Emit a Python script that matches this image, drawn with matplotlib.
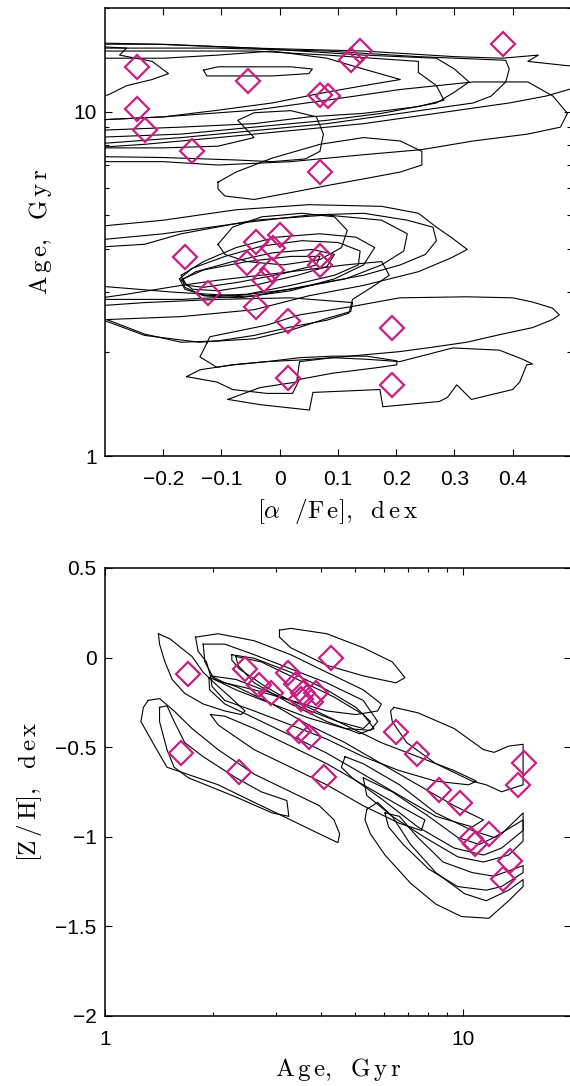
import matplotlib
matplotlib.use("Agg")
import matplotlib.pyplot as plt
from matplotlib.ticker import NullFormatter, FixedLocator, LogLocator

plt.rcParams["mathtext.fontset"] = "cm"
plt.rcParams["font.family"] = ["Liberation Sans", "DejaVu Sans"]

# ---- top panel: [alpha/Fe] vs age, galaxy estimates (diamonds)
alpha_pts = [-0.245, -0.245, -0.232, -0.150, -0.054, 0.069, 0.123, 0.137, 0.069,
             0.083, 0.383, -0.163, -0.041, 0.000, -0.057, -0.013, -0.027, -0.123,
             -0.040, 0.015, 0.015, 0.069, 0.069, -0.011, 0.192, 0.192]
age_pts_top = [13.5, 10.2, 8.83, 7.67, 12.3, 6.66, 14.1, 15.0, 11.2,
               11.1, 15.7, 3.78, 4.17, 4.39, 3.63, 3.47, 3.25, 2.97,
               2.71, 2.46, 1.69, 3.80, 3.59, 4.02, 2.35, 1.61]

# confidence contours, (alpha/Fe, age) vertices
old_1 = [(-0.325, 14.3), (-0.200, 14.3), (-0.106, 14.6), (-0.013, 15.0), (0.081, 14.3),
         (0.144, 13.3), (0.207, 12.4), (0.144, 11.9), (0.081, 11.4), (-0.013, 10.6),
         (-0.106, 10.1), (-0.200, 9.66), (-0.325, 9.44)]
old_2 = [(-0.325, 15.0), (-0.200, 15.0), (-0.044, 15.0), (0.081, 14.6), (0.238, 14.0),
         (0.238, 13.0), (0.269, 11.9), (0.282, 10.8), (0.238, 10.35), (0.144, 9.89),
         (0.050, 9.66), (-0.044, 9.23), (-0.169, 9.02), (-0.325, 8.81)]
old_3 = [(-0.325, 15.7), (-0.200, 15.7), (-0.044, 15.3), (0.144, 14.6), (0.269, 14.3),
         (0.300, 13.3), (0.325, 12.2), (0.300, 11.4), (0.269, 10.6), (0.175, 9.89),
         (0.081, 9.44), (-0.044, 9.02), (-0.169, 8.61), (-0.325, 8.41)]
old_4 = [(-0.325, 15.3), (-0.106, 15.3), (0.081, 15.0), (0.238, 14.45), (0.388, 14.1),
         (0.394, 13.3), (0.388, 12.2), (0.363, 11.1), (0.332, 10.6), (0.207, 9.89),
         (0.081, 9.23), (-0.044, 8.81), (-0.169, 8.41), (-0.325, 8.04)]
old_5 = [(-0.325, 15.85), (-0.213, 15.7), (-0.044, 15.3), (0.144, 15.0), (0.300, 14.45),
         (0.382, 14.3), (0.444, 14.6), (0.426, 14.0), (0.494, 13.6), (0.519, 13.6),
         (0.519, 11.9), (0.457, 11.1), (0.394, 10.6), (0.269, 9.89), (0.144, 9.23),
         (0.019, 8.81), (-0.106, 8.41), (-0.232, 8.04), (-0.325, 7.85)]
old_6 = [(-0.325, 9.44), (-0.200, 9.66), (-0.044, 10.1), (0.081, 10.8), (0.207, 11.6),
         (0.332, 12.2), (0.426, 12.2), (0.469, 11.1), (0.494, 9.89), (0.482, 9.02),
         (0.426, 8.61), (0.332, 8.22), (0.244, 7.76), (0.144, 7.50), (0.019, 7.16),
         (-0.106, 7.00), (-0.200, 7.16), (-0.325, 7.16)]
old_7 = [(-0.131, 13.2), (-0.106, 13.5), (-0.044, 13.5), (0.019, 13.5), (0.056, 13.3),
         (0.050, 12.9), (-0.013, 12.7), (-0.075, 12.7), (-0.125, 12.7)]
old_8 = [(-0.325, 15.5), (-0.263, 15.3), (-0.275, 14.6), (-0.219, 14.0), (-0.191, 12.9),
         (-0.219, 12.4), (-0.263, 11.9), (-0.294, 11.2), (-0.325, 10.8)]
inter_1 = [(-0.106, 6.24), (-0.075, 6.68), (-0.013, 7.33), (0.069, 8.04), (0.144, 8.41),
           (0.207, 8.22), (0.244, 7.67), (0.244, 7.00), (0.207, 6.68), (0.144, 6.38),
           (0.081, 6.10), (0.019, 5.82), (-0.044, 5.56), (-0.094, 5.69), (-0.106, 5.96)]
inter_2 = [(-0.325, 7.41), (-0.200, 7.36), (-0.075, 7.24), (-0.013, 7.16), (0.044, 7.29),
           (0.069, 7.67), (0.075, 8.61), (0.063, 9.66), (0.019, 10.07), (-0.044, 9.93),
           (-0.072, 9.44), (-0.044, 8.41), (-0.106, 7.94), (-0.200, 7.85), (-0.325, 7.85)]
mid_1 = [(-0.325, 4.62), (-0.200, 4.84), (-0.075, 5.19), (0.050, 5.37), (0.175, 5.31),
         (0.238, 5.07), (0.269, 4.62), (0.294, 4.32), (0.322, 3.98), (0.294, 3.76),
         (0.238, 3.43), (0.144, 3.13), (0.050, 2.92), (-0.044, 2.66), (-0.169, 2.54),
         (-0.325, 2.48)]
mid_2 = [(-0.325, 4.22), (-0.200, 4.42), (-0.075, 4.73), (0.050, 5.01), (0.144, 5.07),
         (0.219, 4.84), (0.263, 4.62), (0.269, 4.22), (0.250, 3.85), (0.207, 3.59),
         (0.144, 3.35), (0.050, 3.13), (-0.044, 2.92), (-0.169, 2.85), (-0.325, 2.85)]
mid_3 = [(-0.325, 4.03), (-0.232, 4.12), (-0.169, 4.42), (-0.044, 4.84), (0.081, 5.01),
         (0.175, 4.84), (0.219, 4.42), (0.213, 3.94), (0.175, 3.59), (0.113, 3.27),
         (0.019, 3.05), (-0.075, 2.92), (-0.181, 2.99), (-0.325, 3.13)]
mid_4 = [(-0.106, 4.12), (-0.081, 4.62), (-0.031, 4.95), (0.038, 5.07), (0.094, 4.95),
         (0.116, 4.52), (0.106, 4.03), (0.069, 3.72), (0.006, 3.59), (-0.056, 3.67),
         (-0.094, 3.85)]
mid_5 = [(-0.169, 3.35), (-0.131, 3.67), (-0.075, 4.03), (-0.006, 4.32), (0.069, 4.42),
         (0.131, 4.32), (0.163, 4.03), (0.144, 3.59), (0.094, 3.27), (0.019, 3.02),
         (-0.069, 2.88), (-0.131, 2.92), (-0.163, 3.09)]
mid_6 = [(-0.172, 3.27), (-0.150, 3.51), (-0.094, 3.80), (-0.031, 4.07), (0.038, 4.22),
         (0.100, 4.17), (0.138, 3.94), (0.135, 3.59), (0.094, 3.35), (0.019, 3.13),
         (-0.056, 2.95), (-0.125, 2.92), (-0.163, 3.05)]
mid_7 = [(-0.169, 3.24), (-0.144, 3.43), (-0.081, 3.67), (-0.013, 3.89), (0.056, 3.98),
         (0.094, 3.85), (0.081, 3.55), (0.031, 3.35), (-0.044, 3.13), (-0.106, 3.02),
         (-0.150, 3.05)]
mid_8 = [(-0.166, 3.27), (-0.131, 3.47), (-0.056, 3.67), (0.019, 3.80), (0.069, 3.80),
         (0.063, 3.59), (0.006, 3.39), (-0.069, 3.20), (-0.131, 3.09), (-0.160, 3.13)]
mid_9 = [(-0.325, 2.85), (-0.263, 2.95), (-0.169, 3.13), (-0.106, 3.24), (0.019, 3.43),
         (0.113, 3.59), (0.175, 3.67), (0.188, 3.35), (0.163, 3.13), (0.125, 2.85),
         (0.119, 2.60), (0.081, 2.48), (0.019, 2.37), (-0.044, 2.24), (-0.106, 2.16),
         (-0.169, 2.14), (-0.232, 2.26), (-0.294, 2.48), (-0.325, 2.54)]
young_1 = [(-0.125, 2.13), (-0.120, 2.22), (-0.081, 2.29), (-0.022, 2.40), (0.034, 2.57),
           (0.120, 2.71), (0.206, 2.88), (0.321, 2.90), (0.400, 2.88), (0.434, 2.80),
           (0.468, 2.69), (0.480, 2.57), (0.468, 2.49), (0.434, 2.36), (0.377, 2.25),
           (0.321, 2.14), (0.262, 2.07), (0.206, 2.01), (0.149, 1.97), (0.091, 1.93),
           (0.034, 1.90), (-0.022, 1.88), (-0.081, 1.84), (-0.108, 1.81), (-0.137, 1.94)]
young_2 = [(-0.325, 2.72), (-0.232, 2.79), (-0.106, 2.85), (0.019, 2.88), (0.125, 2.79),
           (0.122, 2.63), (0.081, 2.51), (0.019, 2.32), (-0.044, 2.19), (-0.138, 2.14),
           (-0.232, 2.24), (-0.294, 2.45), (-0.325, 2.51)]
young_3 = [(-0.089, 1.46), (-0.034, 1.41), (0.051, 1.36), (0.057, 1.53), (0.172, 1.56),
           (0.177, 1.39), (0.274, 1.44), (0.288, 1.48), (0.304, 1.61), (0.329, 1.46),
           (0.400, 1.56), (0.412, 1.64), (0.424, 1.84), (0.434, 1.85), (0.417, 1.91),
           (0.377, 2.03), (0.297, 2.06), (0.206, 1.88), (0.149, 1.91), (0.091, 1.93),
           (0.034, 1.88), (0.029, 1.64), (-0.034, 1.58)]
young_4 = [(-0.160, 1.70), (-0.137, 1.78), (-0.081, 1.84), (-0.022, 1.88), (0.034, 1.93),
           (0.091, 1.95), (0.149, 1.95), (0.201, 1.89), (0.201, 1.84), (0.172, 1.81),
           (0.091, 1.74), (0.034, 1.67), (0.022, 1.52), (-0.022, 1.52), (-0.081, 1.56),
           (-0.108, 1.64)]

top_contours = [old_1, old_2, old_3, old_4, old_5, old_6, old_7, old_8,
                inter_1, inter_2, mid_1, mid_2, mid_3, mid_4, mid_5, mid_6,
                mid_7, mid_8, mid_9, young_1, young_2, young_3, young_4]

# ---- bottom panel: age vs [Z/H]
age_pts_bot = [1.70, 1.63, 2.36, 2.46, 2.70, 2.90, 3.24, 3.41, 3.58, 3.53, 3.75, 3.88,
               3.49, 3.70, 4.28, 4.08, 6.49, 7.45, 8.58, 9.83, 10.5, 10.8, 11.8,
               14.8, 14.2, 13.5, 12.9]
zh_pts = [-0.09, -0.535, -0.64, -0.065, -0.155, -0.20, -0.088, -0.145, -0.20, -0.23,
          -0.25, -0.20, -0.41, -0.445, 0.0, -0.665, -0.415, -0.54, -0.737, -0.81,
          -1.01, -1.04, -0.985, -0.59, -0.713, -1.135, -1.233]

zc_1 = [(1.41, 0.133), (1.52, 0.104), (1.63, 0.055), (1.75, 0.006), (1.88, -0.082),
        (2.07, -0.161), (2.26, -0.229), (2.46, -0.298), (2.40, -0.318), (2.16, -0.298),
        (1.88, -0.259), (1.67, -0.200), (1.54, -0.122), (1.47, -0.024), (1.42, 0.075)]
zc_2 = [(1.42, -0.278), (1.49, -0.269), (1.56, -0.357), (1.67, -0.475), (1.88, -0.553),
        (2.32, -0.671), (2.73, -0.749), (3.22, -0.798), (3.26, -0.886), (2.93, -0.867),
        (2.32, -0.778), (1.71, -0.671), (1.56, -0.612), (1.49, -0.514), (1.42, -0.357)]
zc_3 = [(1.32, -0.239), (1.42, -0.229), (1.56, -0.298), (1.75, -0.396), (2.07, -0.514),
        (2.61, -0.651), (3.30, -0.749), (3.97, -0.827), (4.36, -0.906), (4.52, -0.984),
        (4.47, -1.033), (3.97, -0.984), (3.30, -0.906), (2.61, -0.808), (2.07, -0.710),
        (1.49, -0.612), (1.36, -0.475), (1.26, -0.357), (1.28, -0.278)]
zc_4 = [(3.07, 0.153), (3.30, 0.163), (4.16, 0.133), (5.26, 0.055), (6.34, -0.024),
        (6.88, -0.112), (6.49, -0.141), (5.26, -0.102), (4.16, -0.043), (3.30, 0.055),
        (3.07, 0.114)]
zc_5 = [(1.79, 0.114), (2.07, 0.133), (2.61, 0.094), (3.30, 0.016), (4.16, -0.082),
        (5.26, -0.180), (5.91, -0.259), (5.77, -0.298), (5.02, -0.318), (4.16, -0.298),
        (3.30, -0.239), (2.61, -0.180), (2.16, -0.141), (1.97, -0.102), (1.92, -0.024),
        (1.82, 0.035)]
zc_6 = [(1.88, 0.075), (2.16, 0.075), (2.61, 0.016), (3.30, -0.063), (4.16, -0.141),
        (5.26, -0.239), (5.77, -0.357), (5.51, -0.406), (4.68, -0.396), (3.70, -0.337),
        (2.93, -0.259), (2.32, -0.180), (2.02, -0.122), (1.90, -0.024)]
zc_7 = [(2.26, 0.016), (2.61, -0.004), (3.30, -0.082), (4.16, -0.180), (5.02, -0.278),
        (5.51, -0.357), (5.26, -0.396), (4.47, -0.357), (3.53, -0.278), (2.80, -0.161),
        (2.37, -0.063), (2.26, -0.014)]
zc_8 = [(2.32, 0.006), (2.73, -0.024), (3.45, -0.122), (4.36, -0.220), (5.26, -0.318),
        (5.64, -0.396), (5.14, -0.425), (4.16, -0.357), (3.30, -0.259), (2.61, -0.141),
        (2.35, -0.043)]
zc_9 = [(1.97, -0.102), (2.32, -0.122), (2.93, -0.200), (3.70, -0.278), (4.68, -0.376),
        (5.91, -0.475), (7.47, -0.553), (9.44, -0.631), (10.9, -0.690), (10.35, -0.710),
        (8.39, -0.690), (6.64, -0.631), (5.26, -0.553), (4.16, -0.455), (3.30, -0.376),
        (2.61, -0.298), (2.16, -0.239), (1.99, -0.161)]
zc_10 = [(1.97, -0.318), (2.16, -0.327), (2.61, -0.396), (3.30, -0.494), (4.16, -0.592),
         (5.26, -0.710), (6.64, -0.827), (7.82, -0.906), (7.64, -0.965), (6.64, -0.925),
         (5.26, -0.827), (4.16, -0.710), (3.30, -0.612), (2.61, -0.514), (2.07, -0.376)]
zc_11 = [(1.95, -0.112), (2.32, -0.161), (2.93, -0.259), (3.70, -0.376), (4.68, -0.475),
         (5.91, -0.592), (7.47, -0.710), (9.44, -0.827), (11.4, -0.906), (10.6, -0.945),
         (8.39, -0.886), (6.64, -0.769), (5.26, -0.651), (4.16, -0.533), (3.30, -0.435),
         (2.61, -0.337), (2.16, -0.259), (1.96, -0.180)]
zc_12 = [(5.38, -0.847), (5.77, -0.808), (6.34, -0.886), (7.13, -1.043), (8.39, -1.200),
         (10.1, -1.318), (11.6, -1.357), (13.4, -1.298), (14.7, -1.239), (14.7, -1.278),
         (13.4, -1.357), (11.8, -1.455), (9.89, -1.445), (8.39, -1.376), (7.13, -1.259),
         (6.05, -1.102), (5.51, -0.984), (5.32, -0.906)]
zc_13 = [(6.05, -0.867), (6.64, -0.886), (7.47, -1.004), (8.79, -1.141), (10.6, -1.200),
         (12.2, -1.220), (14.7, -1.161), (14.7, -1.200), (12.8, -1.278), (11.6, -1.298),
         (9.66, -1.278), (8.01, -1.180), (6.80, -1.043), (6.19, -0.945)]
zc_14 = [(4.68, -0.553), (5.26, -0.592), (6.64, -0.710), (8.39, -0.867), (10.6, -0.965),
         (12.2, -1.004), (14.7, -0.906), (14.7, -0.965), (12.8, -1.063), (11.4, -1.102),
         (9.44, -1.063), (7.47, -0.945), (5.91, -0.788), (4.90, -0.671), (4.57, -0.612)]
zc_15 = [(5.26, -0.671), (6.34, -0.749), (8.01, -0.886), (9.66, -1.004), (11.1, -1.043),
         (12.8, -0.984), (14.7, -0.867), (14.7, -1.024), (13.4, -1.102), (11.4, -1.141),
         (9.66, -1.112), (7.82, -1.004), (6.34, -0.886), (5.38, -0.769)]
zc_16 = [(6.41, -0.278), (7.47, -0.308), (9.44, -0.396), (11.4, -0.514), (12.2, -0.529),
         (13.4, -0.494), (14.7, -0.484), (14.7, -0.710), (12.8, -0.749), (11.6, -0.710),
         (10.6, -0.690), (8.39, -0.592), (6.96, -0.475), (6.34, -0.357), (6.27, -0.298)]

bottom_contours = [zc_1, zc_2, zc_3, zc_4, zc_5, zc_6, zc_7, zc_8, zc_9, zc_10,
                   zc_11, zc_12, zc_13, zc_14, zc_15, zc_16]

top_xticks = [-0.2, -0.1, 0, 0.1, 0.2, 0.3, 0.4]
top_xlabels = ["\u22120.2", "\u22120.1", "0", "0.1", "0.2", "0.3", "0.4"]
bot_yticks = [0.5, 0, -0.5, -1, -1.5, -2]
bot_ylabels = ["0.5", "0", "\u22120.5", "\u22121", "\u22121.5", "\u22122"]

mag = "#c81e82"
tick_fs = 15
label_fs = 18

age_label = r"$\mathrm{A\,g\,e},\ \ \mathrm{G\,y\,r}$"
afe_label = r"$[\alpha\ \ /\mathrm{F\,e}],\ \ \mathrm{d\,e\,x}$"
zh_label = r"$[\mathrm{Z\,/\,H}],\ \ \mathrm{d\,e\,x}$"


def draw_contours(ax, contours):
    for c in contours:
        xs = [p[0] for p in c] + [c[0][0]]
        ys = [p[1] for p in c] + [c[0][1]]
        ax.plot(xs, ys, color="black", lw=0.8)


def style_axes(ax):
    ax.tick_params(which="both", direction="in", top=True, right=True,
                   labelsize=tick_fs, width=0.8)
    ax.tick_params(which="major", length=5)
    ax.tick_params(which="minor", length=3)
    ax.tick_params(axis="x", which="major", pad=10)
    ax.tick_params(axis="y", which="major", pad=6)
    for s in ax.spines.values():
        s.set_linewidth(1.1)


fig = plt.figure(figsize=(5.7, 10.86), dpi=100)

ax1 = fig.add_axes([0.1842, 0.5801, 0.8175, 0.4125])
draw_contours(ax1, top_contours)
ax1.plot(alpha_pts, age_pts_top, "D", ms=12, mfc="none", mec=mag, mew=1.6)
ax1.set_yscale("log")
ax1.set_xlim(-0.3, 0.5)
ax1.set_ylim(1, 20)
ax1.set_xticks(top_xticks)
ax1.set_xticklabels(top_xlabels)
ax1.yaxis.set_major_locator(FixedLocator([1, 10]))
ax1.set_yticklabels(["1", "10"])
ax1.yaxis.set_minor_locator(LogLocator(base=10, subs=range(2, 10)))
ax1.yaxis.set_minor_formatter(NullFormatter())
ax1.set_xlabel(afe_label, fontsize=label_fs, labelpad=6)
ax1.set_ylabel(age_label, fontsize=label_fs, labelpad=14)
style_axes(ax1)

ax2 = fig.add_axes([0.1842, 0.0645, 0.8175, 0.4125])
draw_contours(ax2, bottom_contours)
ax2.plot(age_pts_bot, zh_pts, "D", ms=12, mfc="none", mec=mag, mew=1.6)
ax2.set_xscale("log")
ax2.set_xlim(1, 20)
ax2.set_ylim(-2, 0.5)
ax2.xaxis.set_major_locator(FixedLocator([1, 10]))
ax2.set_xticklabels(["1", "10"])
ax2.xaxis.set_minor_locator(LogLocator(base=10, subs=range(2, 10)))
ax2.xaxis.set_minor_formatter(NullFormatter())
ax2.set_yticks(bot_yticks)
ax2.set_yticklabels(bot_ylabels)
ax2.set_xlabel(age_label, fontsize=label_fs, labelpad=5)
ax2.set_ylabel(zh_label, fontsize=label_fs, labelpad=8)
style_axes(ax2)

fig.savefig("out.png", dpi=100)
